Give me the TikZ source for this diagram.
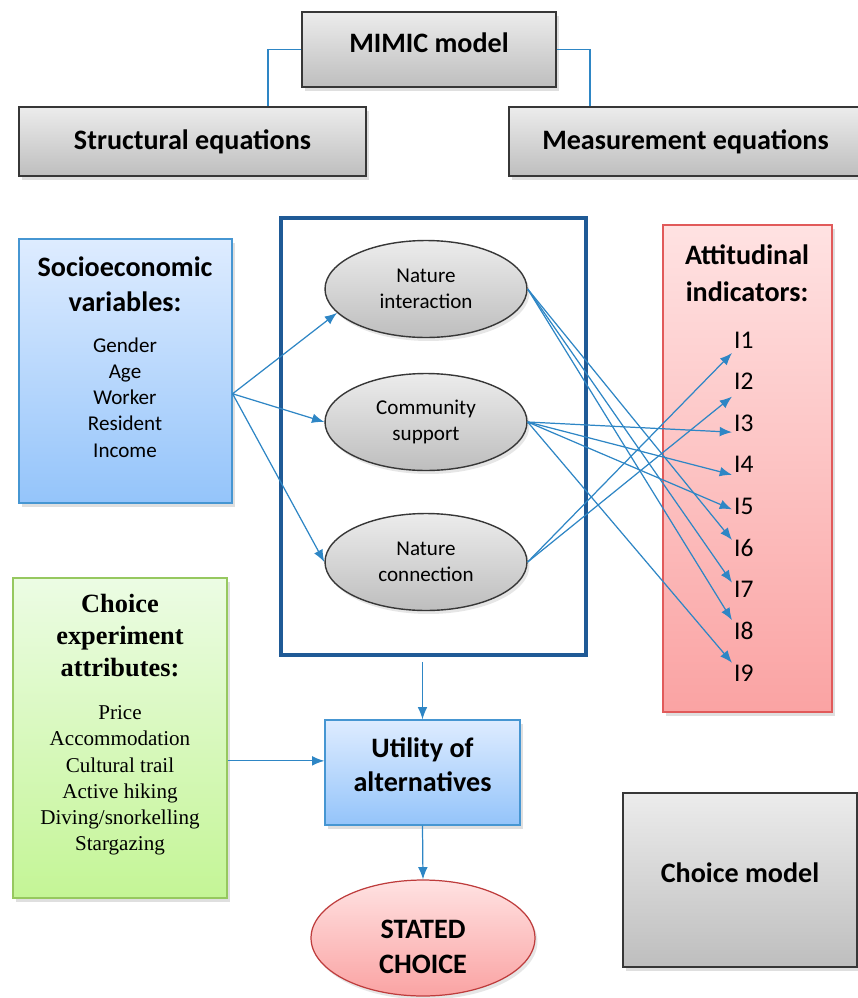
\documentclass[tikz,border=0pt]{standalone}
\usepackage{fontspec}
\setmainfont{Carlito}
\newfontfamily\timesfont{Liberation Serif}
\usetikzlibrary{calc, shapes.geometric, shadows, arrows.meta}

\definecolor{linkblue}{RGB}{46,134,197}
\definecolor{framecol}{RGB}{31,90,150}
\definecolor{graytop}{RGB}{236,236,236}
\definecolor{graybot}{RGB}{190,190,190}
\definecolor{grayedge}{RGB}{55,55,55}
\definecolor{bluetop}{RGB}{222,236,255}
\definecolor{bluebot}{RGB}{148,196,250}
\definecolor{blueedge}{RGB}{70,150,210}
\definecolor{pinktop}{RGB}{255,226,226}
\definecolor{pinkbot}{RGB}{250,163,163}
\definecolor{pinkedge}{RGB}{225,90,90}
\definecolor{greentop}{RGB}{236,252,228}
\definecolor{greenbot}{RGB}{196,245,150}
\definecolor{greenedge}{RGB}{150,200,95}
\definecolor{statededge}{RGB}{190,60,60}

\begin{document}
\begin{tikzpicture}[x=0.02cm, y=-0.02cm,
    every node/.style={align=center, font=\fontsize{12}{14.9}\selectfont},
    box/.style={rectangle, line width=0.7pt, drop shadow={opacity=0.25, shadow xshift=0.6mm, shadow yshift=-0.8mm}},
    graybox/.style={box, draw=grayedge, top color=graytop, bottom color=graybot},
    bluebox/.style={box, draw=blueedge, top color=bluetop, bottom color=bluebot},
    pinkbox/.style={box, draw=pinkedge, top color=pinktop, bottom color=pinkbot},
    greenbox/.style={box, draw=greenedge, top color=greentop, bottom color=greenbot},
    latent/.style={ellipse, draw=grayedge, line width=0.8pt, inner sep=0pt, top color=graytop, bottom color=graybot,
        minimum width=4.04cm, minimum height=1.94cm, drop shadow={opacity=0.2, shadow xshift=0.5mm, shadow yshift=-0.7mm}},
    title/.style={font=\fontsize{16}{19.8}\selectfont\bfseries},
    ind/.style={anchor=west, inner sep=1pt, font=\fontsize{14.5}{17}\selectfont},
    tree/.style={draw=linkblue, line width=0.7pt},
    link/.style={draw=linkblue, line width=0.7pt, -{Latex[length=7pt, width=5.5pt]}}]
    \useasboundingbox (0,0) rectangle (858,998);

    % model parts on top
    \node[graybox, title, text depth=8pt, minimum width=5.08cm, minimum height=1.5cm] (mimic) at (429,49.5) {MIMIC model};
    \node[graybox, title, minimum width=6.94cm, minimum height=1.38cm] (struct) at (192.5,141.5) {Structural equations};
    \node[graybox, title, minimum width=7.06cm, minimum height=1.38cm] (meas) at (685.5,141.5) {Measurement equations};
    \draw[tree] (mimic.west) -| ([xshift=1.51cm]struct.north);
    \draw[tree] (mimic.east) -| ([xshift=-1.91cm]meas.north);

    % socioeconomic variables
    \node[bluebox, minimum width=4.26cm, minimum height=5.28cm] (socio) at (125.5,371) {};
    \node[title] (socioh) at (125,284.5) {Socioeconomic\\variables:};
    \node (sociol) at (125,397.5) {Gender\\Age\\Worker\\Resident\\Income};

    % latent variables
    \node[draw=framecol, line width=2pt, minimum width=6.1cm, minimum height=8.74cm] (frame) at (433.5,436.5) {};
    \node[latent] (ni) at (426,289) {Nature\\interaction};
    \node[latent] (cs) at (426,422) {Community\\support};
    \node[latent] (nc) at (426,562) {Nature\\connection};

    % attitudinal indicators
    \node[pinkbox, minimum width=3.38cm, minimum height=9.74cm] (att) at (747.5,468.5) {};
    \node[font=\fontsize{16}{21}\selectfont\bfseries] (atth) at (747,273.5) {Attitudinal\\indicators:};
    \foreach \k in {1,...,9}
        \node[ind] (i\k) at (732,298.4+41.6*\k) {I\k};

    % choice experiment
    \node[greenbox, minimum width=4.28cm, minimum height=6.4cm] (choice) at (120,738) {};
    \node[font=\timesfont\fontsize{15}{18.4}\selectfont\bfseries] (choiceh) at (120,635.5) {Choice\\experiment\\attributes:};
    \node[font=\timesfont\fontsize{12}{14.9}\selectfont] (choicel) at (120,780.5) {Price\\Accommodation\\Cultural trail\\Active hiking\\Diving/snorkelling\\Stargazing};

    \node[bluebox, title, text depth=9pt, minimum width=3.9cm, minimum height=2.1cm] (util) at (422.5,772.5) {Utility of\\alternatives};
    \node[ellipse, draw=statededge, line width=0.7pt, top color=pinktop, bottom color=pinkbot,
        minimum width=4.48cm, minimum height=2.32cm, inner sep=0pt, title, text height=40pt,
        drop shadow={opacity=0.2, shadow xshift=0.5mm, shadow yshift=-0.7mm}] (stated) at (423,938) {STATED\\CHOICE};
    \node[graybox, title, text depth=8pt, minimum width=4.68cm, minimum height=3.48cm] (cmodel) at (740,880) {Choice model};

    % structural part
    \foreach \t in {ni.195, cs.west, nc.west}
        \draw[link] (socio.-12) -- (\t);

    % measurement part
    \foreach \s/\t/\d in {nc/1/13, nc/2/15, cs/3/9, cs/4/10, cs/5/3, ni/6/-8, ni/7/-7, ni/8/-11, cs/9/-10}
        \draw[link] (\s.east) -- ($(i\t.west)+(0,\d)$);

    % towards the choice
    \draw[link, shorten <=3pt] (frame.south -| util.north) -- (util.north);
    \draw[link] (choice.-12) -- (choice.-12 -| util.west);
    \draw[link] (util.south) -- (stated.north);
\end{tikzpicture}
\end{document}
